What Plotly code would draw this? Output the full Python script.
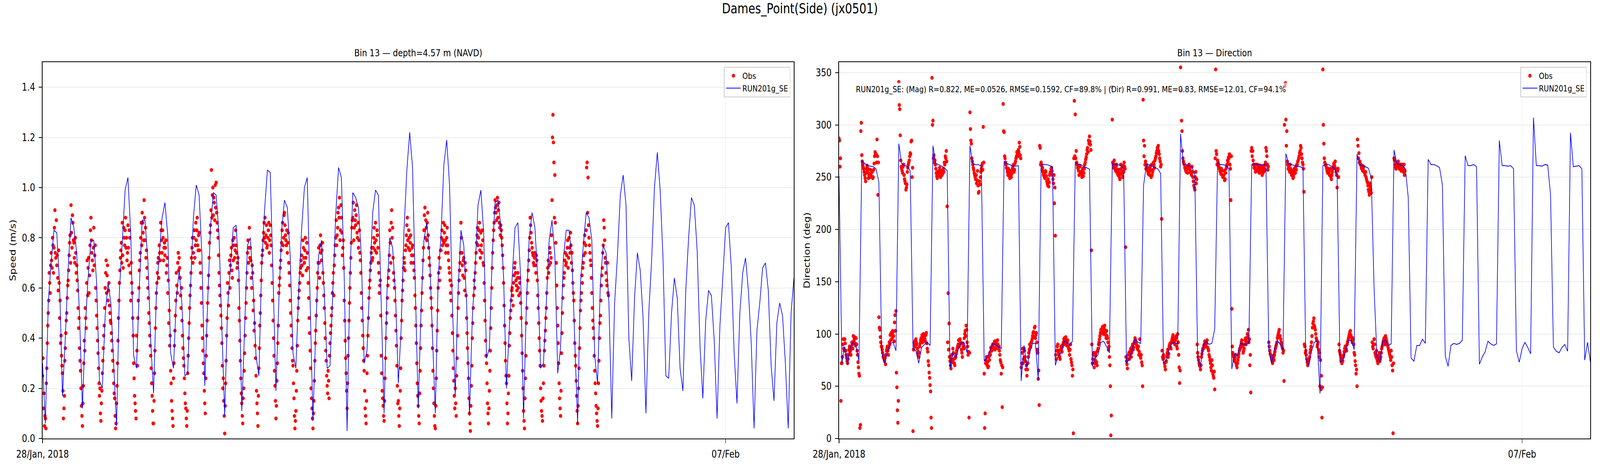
import pandas as pd
import plotly.graph_objects as go

START = "2018-01-28 00:00"
START_B = "2018-01-28 00:10"
END = "2018-02-08 00:00"

# hourly model series (RUN201g_SE)
model_speed = [
    0.30, 0.06, 0.54, 0.70, 0.83, 0.82, 0.61, 0.17, 0.40, 0.68,
    0.88, 0.84, 0.74, 0.49, 0.12, 0.44, 0.64, 0.79, 0.79, 0.62,
    0.23, 0.20, 0.49, 0.62, 0.54, 0.30, 0.05, 0.59, 0.78, 0.99,
    1.04, 0.81, 0.33, 0.28, 0.60, 0.87, 0.87, 0.71, 0.39, 0.18,
    0.58, 0.73, 0.88, 0.94, 0.81, 0.34, 0.28, 0.56, 0.67, 0.53,
    0.25, 0.26, 0.61, 0.88, 1.01, 0.97, 0.73, 0.21, 0.54, 0.84,
    0.98, 0.97, 0.81, 0.44, 0.09, 0.52, 0.68, 0.84, 0.85, 0.66,
    0.11, 0.44, 0.77, 0.80, 0.61, 0.33, 0.25, 0.69, 0.91, 1.07,
    1.06, 0.64, 0.19, 0.54, 0.83, 0.95, 0.92, 0.73, 0.34, 0.28,
    0.59, 0.83, 1.00, 1.04, 0.54, 0.07, 0.44, 0.73, 0.79, 0.58,
    0.28, 0.29, 0.59, 0.89, 1.08, 1.04, 0.64, 0.03, 0.64, 0.98,
    0.96, 0.92, 0.73, 0.30, 0.35, 0.64, 0.90, 0.99, 0.97, 0.54,
    0.10, 0.58, 0.80, 0.76, 0.58, 0.22, 0.44, 0.83, 1.07, 1.22,
    1.08, 0.59, 0.12, 0.52, 0.79, 0.86, 0.73, 0.41, 0.10, 0.64,
    0.81, 1.09, 1.19, 1.01, 0.54, 0.17, 0.59, 0.83, 0.77, 0.54,
    0.09, 0.48, 0.68, 0.93, 0.99, 0.82, 0.32, 0.36, 0.73, 0.94,
    0.95, 0.85, 0.64, 0.20, 0.44, 0.64, 0.84, 0.86, 0.64, 0.08,
    0.54, 0.80, 0.90, 0.84, 0.64, 0.28, 0.30, 0.54, 0.79, 0.87,
    0.73, 0.26, 0.36, 0.72, 0.83, 0.83, 0.72, 0.39, 0.06, 0.62,
    0.77, 0.90, 0.88, 0.79, 0.33, 0.22, 0.62, 0.77, 0.74, 0.54,
    0.08, 0.54, 0.73, 0.97, 1.05, 0.93, 0.40, 0.23, 0.56, 0.74,
    0.67, 0.48, 0.10, 0.50, 0.71, 1.00, 1.14, 0.99, 0.72, 0.25,
    0.24, 0.50, 0.64, 0.56, 0.28, 0.19, 0.59, 0.80, 0.96, 0.93,
    0.75, 0.37, 0.16, 0.47, 0.59, 0.57, 0.39, 0.08, 0.45, 0.64,
    0.84, 0.86, 0.68, 0.34, 0.14, 0.50, 0.66, 0.72, 0.59, 0.38,
    0.04, 0.43, 0.54, 0.68, 0.70, 0.59, 0.29, 0.15, 0.46, 0.54,
    0.49, 0.30, 0.04, 0.50, 0.64,
]

model_dir = [
    251, 72, 88, 71, 88, 92, 88, 74, 266, 263,
    261, 260.5, 260, 258, 245, 82, 72, 83, 91, 92,
    84, 282, 263, 261, 260.5, 256, 86, 84, 72, 87,
    90, 92, 89, 280, 263, 262, 260.5, 259, 256, 67,
    82, 77, 86, 92, 91.5, 82, 280, 263, 262, 262,
    260.5, 74, 77, 84, 91, 89.5, 88, 86, 265, 263,
    262, 260.5, 260.5, 261, 55, 89, 68, 82, 91, 91,
    56, 262, 262, 262, 261, 260, 70, 79, 82, 93,
    92, 89.5, 93, 264, 262, 262, 260, 259, 257.5, 69,
    78, 80, 92, 93, 88, 82, 263, 262, 262, 261,
    258, 72, 76, 85, 95, 92, 91, 242, 262, 262,
    260.5, 259, 258, 253.5, 72, 75, 85, 91, 92, 90,
    291.5, 262, 262, 261, 260, 252, 77, 69, 89, 93,
    90, 91, 105, 264, 262, 262, 261, 258, 66.5, 81,
    79.5, 91, 90, 90, 92, 262, 263, 262, 262, 262,
    262, 85, 72, 86, 94, 90, 85, 272.5, 263, 262,
    261, 260.5, 260, 259, 77, 70, 83, 92, 93.5, 43,
    261, 262, 262, 260.5, 258.5, 252, 73, 75, 83, 94,
    94, 85, 272, 262, 260.5, 260, 258.5, 249, 143, 79,
    73, 93, 94, 89, 90.5, 276, 263, 262, 261, 258,
    230.5, 77, 74, 89, 89, 95, 91, 267, 262, 262,
    261, 259, 242.5, 79, 69, 89, 91, 90, 91, 94,
    270.5, 261, 261, 262, 260, 71, 78, 83, 93, 90.5,
    89, 90.5, 285, 261, 261, 260.5, 261, 258, 84, 73,
    86, 92, 87, 81, 307, 261, 261, 260.5, 262, 261.5,
    233, 87.5, 83.5, 82, 87, 90, 83.5, 292.5, 260, 260.5,
    261, 258, 75, 92, 73,
]

# observations, samples at :00, :20, :40 of each hour
obs_speed = [
    0.25, 0.12, 0.05,  0.08, 0.22, 0.38,  0.50, 0.66, 0.58,  0.74, 0.68, 0.77,
    0.76, 0.91, 0.72,  0.69, 0.64, 0.75,  0.48, 0.38, 0.33,  0.26, 0.08, 0.17,
    0.36, 0.47, 0.56,  0.63, 0.73, 0.81,  0.93, 0.76, 0.86,  0.78, 0.70, 0.74,
    0.69, 0.59, 0.44,  0.36, 0.27, 0.13,  0.05, 0.21, 0.39,  0.52, 0.44, 0.71,
    0.68, 0.58, 0.77,  0.88, 0.74, 0.67,  0.84, 0.73, 0.60,  0.49, 0.39, 0.28,
    0.17, 0.10, 0.14,  0.26, 0.36, 0.45,  0.60, 0.71, 0.65,  0.55, 0.62, 0.50,
    0.46, 0.39, 0.31,  0.22, 0.16, 0.04,  0.14, 0.30, 0.48,  0.62, 0.72, 0.78,
    0.86, 0.68, 0.80,  0.83, 0.76, 0.71,  0.85, 0.69, 0.80,  0.55, 0.62, 0.48,
    0.30, 0.17, 0.11,  0.41, 0.29, 0.55,  0.67, 0.74, 0.86,  0.90, 0.82, 0.95,
    0.79, 0.72, 0.68,  0.60, 0.50, 0.41,  0.33, 0.22, 0.11,  0.06, 0.26, 0.44,
    0.58, 0.66, 0.72,  0.77, 0.71, 0.83,  0.74, 0.80, 0.76,  0.73, 0.79, 0.69,
    0.58, 0.46, 0.37,  0.27, 0.15, 0.08,  0.24, 0.37, 0.49,  0.66, 0.58, 0.74,
    0.72, 0.64, 0.52,  0.47, 0.36, 0.29,  0.18, 0.12, 0.05,  0.26, 0.40, 0.52,
    0.61, 0.72, 0.80,  0.74, 0.83, 0.77,  0.79, 0.88, 0.75,  0.82, 0.70, 0.60,
    0.45, 0.35, 0.26,  0.14, 0.24, 0.41,  0.54, 0.65, 0.78,  0.85, 1.07, 0.97,
    0.89, 0.94, 1.01,  1.02, 0.86, 0.80,  0.66, 0.57, 0.49,  0.38, 0.20, 0.15,
    0.02, 0.22, 0.41,  0.62, 0.53, 0.71,  0.69, 0.76, 0.64,  0.71, 0.80, 0.75,
    0.77, 0.68, 0.72,  0.52, 0.39, 0.24,  0.14, 0.06, 0.20,  0.34, 0.48, 0.60,
    0.74, 0.70, 0.84,  0.76, 0.64, 0.69,  0.51, 0.43, 0.37,  0.25, 0.14, 0.05,
    0.28, 0.45, 0.57,  0.70, 0.75, 0.82,  0.80, 0.78, 0.85,  0.77, 0.83, 0.74,
    0.85, 0.77, 0.62,  0.47, 0.33, 0.21,  0.08, 0.23, 0.38,  0.58, 0.64, 0.71,
    0.78, 0.86, 0.80,  0.90, 0.81, 0.77,  0.74, 0.82, 0.66,  0.55, 0.45, 0.36,
    0.29, 0.16, 0.04,  0.11, 0.27, 0.47,  0.56, 0.62, 0.68,  0.73, 0.65, 0.76,
    0.70, 0.80, 0.67,  0.74, 0.62, 0.48,  0.35, 0.20, 0.12,  0.04, 0.15, 0.31,
    0.43, 0.55, 0.66,  0.76, 0.64, 0.81,  0.71, 0.78, 0.62,  0.52, 0.40, 0.31,
    0.21, 0.27, 0.16,  0.38, 0.45, 0.52,  0.62, 0.57, 0.73,  0.80, 0.77, 0.84,
    0.92, 0.96, 0.83,  0.88, 0.73, 0.79,  0.55, 0.39, 0.26,  0.12, 0.33, 0.47,
    0.60, 0.72, 0.84,  0.88, 0.79, 0.91,  0.85, 0.93, 0.80,  0.76, 0.83, 0.71,
    0.58, 0.47, 0.36,  0.27, 0.12, 0.06,  0.26, 0.41, 0.56,  0.63, 0.70, 0.76,
    0.72, 0.80, 0.78,  0.86, 0.74, 0.81,  0.70, 0.58, 0.63,  0.33, 0.19, 0.13,
    0.07, 0.24, 0.40,  0.50, 0.61, 0.67,  0.83, 0.70, 0.91,  0.84, 0.66, 0.60,
    0.49, 0.37, 0.21,  0.15, 0.05, 0.19,  0.40, 0.55, 0.63,  0.72, 0.67, 0.77,
    0.85, 0.79, 0.83,  0.75, 0.81, 0.73,  0.77, 0.70, 0.64,  0.52, 0.38, 0.22,
    0.13, 0.06, 0.27,  0.45, 0.58, 0.71,  0.83, 0.92, 0.87,  0.79, 0.90, 0.76,
    0.69, 0.60, 0.52,  0.36, 0.20, 0.09,  0.04, 0.24, 0.43,  0.60, 0.72, 0.68,
    0.75, 0.83, 0.79,  0.78, 0.85, 0.74,  0.80, 0.77, 0.71,  0.66, 0.58, 0.61,
    0.42, 0.28, 0.17,  0.20, 0.09, 0.32,  0.52, 0.63, 0.70,  0.86, 0.74, 0.65,
    0.72, 0.59, 0.67,  0.48, 0.36, 0.24,  0.10, 0.03, 0.21,  0.40, 0.52, 0.63,
    0.66, 0.74, 0.81,  0.77, 0.83, 0.75,  0.82, 0.74, 0.79,  0.69, 0.55, 0.39,
    0.30, 0.14, 0.06,  0.19, 0.35, 0.52,  0.68, 0.79, 0.86,  0.95, 0.90, 0.93,
    0.88, 0.94, 0.84,  0.85, 0.80, 0.73,  0.62, 0.45, 0.31,  0.22, 0.06, 0.18,
    0.37, 0.48, 0.55,  0.60, 0.53, 0.65,  0.70, 0.63, 0.59,  0.66, 0.57, 0.62,
    0.54, 0.41, 0.27,  0.11, 0.04, 0.24,  0.46, 0.58, 0.67,  0.75, 0.88, 0.82,
    0.76, 0.73, 0.69,  0.74, 0.66, 0.71,  0.57, 0.46, 0.35,  0.20, 0.11, 0.07,
    0.22, 0.35, 0.43,  0.52, 0.64, 0.71,  0.69, 0.74, 0.72,  0.95, 1.29, 1.10,
    1.05, 0.78, 0.61,  0.45, 0.30, 0.16,  0.09, 0.34, 0.50,  0.61, 0.66, 0.74,
    0.70, 0.76, 0.68,  0.80, 0.74, 0.77,  0.74, 0.62, 0.55,  0.38, 0.29, 0.17,
    0.06, 0.20, 0.36,  0.51, 0.58, 0.62,  0.70, 0.78, 0.74,  0.83, 1.10, 1.04,
    0.80, 0.74, 0.69,  0.58, 0.47, 0.40,  0.27, 0.18, 0.10,  0.05, 0.22, 0.40,
    0.49, 0.61, 0.68,  0.77, 0.84, 0.72,  0.66, 0.61, 0.58,
]

# observations, samples at :10, :30, :50 of each hour
obs_speed_b = [
    0.32, 0.18, 0.09,  0.04, 0.28, 0.45,  0.55, 0.62, 0.69,  0.71, 0.80, 0.66,
    0.84, 0.74, 0.87,  0.73, 0.59, 0.62,  0.55, 0.41, 0.29,  0.19, 0.12, 0.31,
    0.42, 0.50, 0.61,  0.67, 0.78, 0.70,  0.82, 0.89, 0.79,  0.72, 0.80, 0.66,
    0.63, 0.52, 0.48,  0.31, 0.20, 0.09,  0.14, 0.30, 0.35,  0.48, 0.62, 0.57,
    0.72, 0.65, 0.83,  0.79, 0.71, 0.76,  0.69, 0.77, 0.55,  0.44, 0.34, 0.22,
    0.20, 0.07, 0.19,  0.31, 0.41, 0.52,  0.66, 0.58, 0.69,  0.59, 0.53, 0.47,
    0.42, 0.35, 0.27,  0.18, 0.09, 0.06,  0.21, 0.39, 0.55,  0.67, 0.75, 0.70,
    0.73, 0.84, 0.77,  0.88, 0.80, 0.74,  0.76, 0.83, 0.66,  0.70, 0.58, 0.41,
    0.24, 0.14, 0.08,  0.35, 0.48, 0.60,  0.71, 0.80, 0.77,  0.86, 0.79, 0.88,
    0.84, 0.75, 0.64,  0.56, 0.46, 0.37,  0.28, 0.17, 0.06,  0.15, 0.35, 0.52,
    0.62, 0.70, 0.64,  0.74, 0.86, 0.79,  0.83, 0.71, 0.78,  0.76, 0.66, 0.72,
    0.63, 0.51, 0.41,  0.22, 0.11, 0.05,  0.30, 0.43, 0.55,  0.61, 0.70, 0.67,
    0.68, 0.57, 0.60,  0.41, 0.32, 0.24,  0.14, 0.08, 0.11,  0.33, 0.46, 0.57,
    0.66, 0.76, 0.70,  0.80, 0.72, 0.86,  0.83, 0.77, 0.81,  0.75, 0.66, 0.54,
    0.40, 0.30, 0.19,  0.10, 0.33, 0.47,  0.60, 0.72, 0.82,  0.91, 0.88, 1.00,
    0.96, 0.87, 0.92,  0.90, 0.83, 0.73,  0.61, 0.53, 0.44,  0.29, 0.24, 0.09,
    0.13, 0.31, 0.48,  0.58, 0.66, 0.60,  0.73, 0.67, 0.79,  0.77, 0.72, 0.83,
    0.74, 0.70, 0.63,  0.47, 0.31, 0.18,  0.09, 0.16, 0.27,  0.41, 0.54, 0.66,
    0.79, 0.76, 0.72,  0.71, 0.60, 0.66,  0.55, 0.46, 0.32,  0.19, 0.10, 0.17,
    0.36, 0.50, 0.63,  0.73, 0.79, 0.86,  0.88, 0.81, 0.76,  0.80, 0.86, 0.79,
    0.81, 0.69, 0.55,  0.40, 0.27, 0.15,  0.13, 0.30, 0.45,  0.61, 0.68, 0.75,
    0.83, 0.77, 0.89,  0.85, 0.79, 0.83,  0.78, 0.70, 0.61,  0.50, 0.41, 0.31,
    0.22, 0.09, 0.07,  0.19, 0.37, 0.52,  0.59, 0.66, 0.71,  0.69, 0.79, 0.72,
    0.75, 0.72, 0.78,  0.68, 0.56, 0.42,  0.28, 0.16, 0.08,  0.10, 0.23, 0.38,
    0.49, 0.60, 0.70,  0.70, 0.77, 0.74,  0.75, 0.66, 0.57,  0.46, 0.35, 0.25,
    0.18, 0.23, 0.33,  0.42, 0.49, 0.58,  0.66, 0.69, 0.77,  0.87, 0.81, 0.90,
    0.88, 0.79, 0.93,  0.82, 0.76, 0.68,  0.47, 0.32, 0.19,  0.22, 0.40, 0.54,
    0.66, 0.78, 0.87,  0.94, 0.84, 0.87,  0.89, 0.82, 0.86,  0.79, 0.74, 0.66,
    0.52, 0.41, 0.31,  0.19, 0.09, 0.15,  0.33, 0.48, 0.60,  0.67, 0.74, 0.71,
    0.76, 0.84, 0.75,  0.79, 0.83, 0.76,  0.66, 0.61, 0.49,  0.26, 0.16, 0.09,
    0.15, 0.32, 0.46,  0.56, 0.64, 0.73,  0.78, 0.86, 0.80,  0.72, 0.63, 0.55,
    0.43, 0.29, 0.14,  0.09, 0.12, 0.28,  0.47, 0.59, 0.68,  0.70, 0.75, 0.81,
    0.88, 0.76, 0.80,  0.78, 0.70, 0.76,  0.73, 0.67, 0.57,  0.45, 0.30, 0.17,
    0.09, 0.18, 0.36,  0.51, 0.64, 0.76,  0.89, 0.80, 0.84,  0.86, 0.81, 0.72,
    0.65, 0.56, 0.45,  0.27, 0.14, 0.05,  0.13, 0.35, 0.51,  0.66, 0.63, 0.75,
    0.80, 0.77, 0.86,  0.82, 0.79, 0.77,  0.84, 0.74, 0.68,  0.63, 0.55, 0.49,
    0.35, 0.23, 0.12,  0.14, 0.25, 0.41,  0.58, 0.67, 0.74,  0.80, 0.69, 0.71,
    0.64, 0.70, 0.57,  0.42, 0.30, 0.16,  0.06, 0.13, 0.29,  0.46, 0.57, 0.60,
    0.70, 0.78, 0.84,  0.80, 0.86, 0.72,  0.77, 0.83, 0.70,  0.62, 0.47, 0.33,
    0.22, 0.10, 0.12,  0.27, 0.44, 0.60,  0.74, 0.83, 0.90,  0.92, 0.87, 0.96,
    0.91, 0.86, 0.81,  0.83, 0.77, 0.68,  0.53, 0.38, 0.25,  0.14, 0.10, 0.25,
    0.42, 0.51, 0.59,  0.57, 0.62, 0.68,  0.66, 0.61, 0.64,  0.60, 0.64, 0.58,
    0.48, 0.34, 0.20,  0.07, 0.16, 0.33,  0.52, 0.63, 0.71,  0.80, 0.85, 0.78,
    0.74, 0.70, 0.72,  0.69, 0.73, 0.63,  0.52, 0.40, 0.29,  0.15, 0.09, 0.16,
    0.29, 0.39, 0.48,  0.58, 0.68, 0.66,  0.76, 0.70, 0.81,  1.20, 1.18, 0.88,
    0.86, 0.70, 0.52,  0.38, 0.22, 0.12,  0.19, 0.42, 0.56,  0.64, 0.71, 0.69,
    0.73, 0.79, 0.72,  0.76, 0.82, 0.70,  0.67, 0.58, 0.47,  0.33, 0.23, 0.11,
    0.13, 0.28, 0.44,  0.55, 0.65, 0.68,  0.73, 0.81, 0.77,  1.08, 0.90, 0.85,
    0.77, 0.71, 0.64,  0.52, 0.44, 0.33,  0.22, 0.13, 0.07,  0.12, 0.31, 0.46,
    0.55, 0.65, 0.74,  0.87, 0.79, 0.70,  0.63, 0.70, 0.57,
]

obs_dir = [
    287, 260, 36,  72, 90, 86,  95, 84, 77,  72, 80, 88,  84, 87, 90,  98, 95, 91,
    96, 84, 73,  62, 10, 294,  271, 262, 258,  252, 246, 258,  255, 249, 253,  257, 251, 255,
    250, 263, 274,  272, 286, 233,  116, 104, 92,  88, 82, 79,  74, 71, 84,  88, 80, 92,
    99, 101, 96,  102, 93, 118,  122, 49, 15,  341, 315, 266,  258, 254, 262,  248, 244, 240,
    255, 262, 266,  273, 284, 250,  7, 92, 88,  95, 90, 81,  78, 88, 94,  96, 92, 100,
    97, 93, 101,  86, 74, 63,  51, 20, 345,  304, 271, 266,  258, 251, 255,  253, 259, 250,
    256, 253, 258,  264, 270, 275,  222, 139, 110,  74, 67, 80,  86, 76, 70,  78, 84, 88,
    94, 89, 92,  85, 78, 88,  96, 103, 108,  92, 80, 20,  312, 285, 268,  262, 257, 252,
    248, 244, 256,  235, 246, 250,  258, 263, 298,  62, 24, 75,  70, 68, 78,  82, 87, 84,
    90, 86, 93,  91, 88, 94,  86, 84, 75,  62, 30, 320,  293, 268, 262,  258, 252, 255,
    249, 256, 253,  259, 262, 257,  265, 270, 272,  276, 283, 271,  68, 82, 72,  86, 78, 66,
    60, 72, 82,  90, 88, 93,  98, 102, 106,  96, 101, 85,  57, 32, 278,  264, 257, 255,
    253, 249, 255,  246, 242, 241,  252, 255, 259,  252, 244, 225,  194, 76, 88,  84, 80, 76,
    88, 83, 90,  95, 92, 97,  89, 94, 86,  80, 90, 73,  60, 5, 323,  310, 275, 262,
    258, 252, 260,  255, 250, 258,  254, 262, 267,  272, 278, 285,  289, 281, 180,  72, 80, 68,
    75, 82, 70,  86, 92, 98,  104, 101, 107,  102, 108, 99,  103, 96, 85,  78, 50, 22,
    305, 262, 266,  258, 260, 254,  252, 257, 248,  262, 256, 250,  255, 260, 183,  74, 67, 80,
    76, 84, 78,  88, 85, 91,  96, 92, 88,  85, 80, 95,  77, 73, 50,  285, 280, 265,
    262, 257, 253,  255, 260, 250,  252, 257, 262,  266, 270, 275,  278, 275, 268,  260, 210, 78,
    80, 72, 66,  74, 82, 78,  88, 91, 86,  95, 99, 93,  90, 96, 88,  100, 80, 53,
    355, 304, 275,  265, 262, 258,  255, 260, 258,  262, 257, 254,  260, 250, 242,  238, 255, 248,
    82, 75, 70,  66, 78, 84,  86, 90, 92,  88, 94, 86,  80, 75, 68,  75, 62, 58,
    47, 353, 272,  266, 262, 258,  255, 258, 252,  250, 256, 248,  258, 262, 265,  268, 262, 228,
    124, 82, 78,  74, 80, 70,  72, 78, 84,  86, 92, 88,  82, 86, 94,  90, 96, 98,
    92, 70, 44,  278, 275, 262,  260, 255, 257,  262, 258, 254,  256, 260, 252,  254, 258, 262,
    278, 270, 257,  92, 84, 80,  76, 72, 78,  80, 86, 90,  96, 100, 104,  98, 92, 88,
    82, 55, 337,  305, 294, 262,  260, 255, 258,  252, 256, 250,  258, 254, 257,  262, 266, 270,
    275, 278, 268,  262, 236, 88,  84, 76, 70,  74, 78, 85,  92, 106, 112,  108, 104, 96,
    88, 92, 78,  50, 47, 20,  353, 282, 264,  262, 258, 254,  256, 252, 258,  248, 255, 260,
    262, 265, 255,  240, 258, 90,  82, 78, 72,  74, 80, 86,  88, 84, 92,  96, 100, 103,
    97, 92, 95,  82, 74, 62,  50, 280, 273,  265, 262, 258,  256, 260, 254,  255, 248, 245,
    238, 233, 241,  235, 92, 86,  95, 82, 78,  76, 72, 80,  74, 78, 86,  90, 94, 92,
    98, 94, 90,  86, 82, 78,  84, 70, 5,  268, 262, 258,  264, 260, 262,  258, 262, 257,
    260, 255, 252,
]

obs_dir_b = [
    285, 268, 72,  78, 95, 84,  91, 80, 74,  76, 85, 83,  80, 92, 86,  93, 97, 89,
    90, 80, 68,  60, 13, 302,  265, 260, 255,  249, 254, 261,  258, 252, 250,  253, 256, 249,
    257, 270, 272,  264, 270, 264,  106, 97, 88,  85, 78, 76,  77, 80, 86,  84, 87, 90,
    94, 100, 103,  98, 111, 103,  63, 27, 36,  319, 290, 260,  256, 260, 252,  246, 238, 243,
    259, 264, 270,  272, 285, 259,  85, 90, 94,  92, 86, 83,  82, 91, 96,  99, 94, 97,
    95, 99, 91,  83, 70, 58,  45, 10, 300,  268, 264, 262,  254, 249, 252,  256, 251, 254,
    252, 257, 255,  262, 268, 265,  92, 85, 78,  70, 76, 73,  82, 72, 77,  81, 86, 90,
    88, 95, 91,  82, 91, 86,  100, 98, 104,  88, 83, 82,  296, 282, 265,  259, 254, 250,
    252, 247, 242,  236, 243, 255,  261, 257, 264,  10, 72, 78,  73, 69, 75,  80, 85, 88,
    88, 91, 85,  93, 87, 90,  88, 80, 73,  70, 68, 294,  270, 264, 259,  255, 258, 251,
    253, 250, 257,  261, 255, 263,  268, 274, 270,  274, 279, 268,  72, 86, 76,  84, 74, 70,
    66, 78, 85,  87, 92, 95,  101, 97, 107,  99, 92, 82,  65, 280, 262,  262, 259, 252,
    250, 256, 251,  244, 248, 245,  254, 258, 256,  248, 252, 240,  80, 84, 90,  82, 78, 85,
    86, 88, 92,  96, 90, 94,  92, 88, 84,  85, 76, 70,  66, 268, 270,  268, 264, 259,
    256, 261, 254,  253, 257, 251,  258, 264, 269,  276, 274, 282,  284, 276, 90,  76, 82, 72,
    79, 73, 84,  90, 95, 101,  103, 106, 100,  105, 101, 96,  98, 92, 88,  70, 3, 336,
    264, 259, 262,  256, 262, 257,  255, 250, 253,  258, 253, 261,  264, 258, 78,  71, 76, 82,
    80, 86, 82,  90, 87, 93,  94, 90, 86,  88, 83, 79,  80, 70, 324,  270, 262, 258,
    260, 255, 258,  252, 257, 262,  255, 264, 259,  268, 273, 278,  280, 272, 265,  262, 84, 76,
    77, 69, 73,  79, 85, 81,  90, 87, 93,  97, 92, 96,  94, 98, 86,  92, 68, 65,
    333, 294, 268,  263, 259, 256,  258, 254, 261,  259, 255, 252,  255, 246, 240,  250, 244, 90,
    78, 72, 69,  70, 81, 86,  89, 93, 88,  91, 87, 84,  78, 72, 65,  70, 60, 64,
    268, 275, 262,  264, 260, 256,  253, 256, 250,  252, 247, 254,  260, 266, 269,  272, 258, 270,
    88, 80, 75,  77, 72, 68,  75, 81, 86,  89, 94, 90,  84, 90, 96,  93, 100, 104,
    95, 80, 275,  270, 266, 259,  258, 262, 256,  259, 255, 261,  258, 255, 257,  260, 256, 264,
    275, 262, 260,  88, 81, 78,  74, 79, 75,  83, 88, 92,  98, 102, 97,  95, 90, 86,
    84, 300, 340,  280, 265, 258,  257, 262, 254,  255, 249, 253,  255, 260, 262,  265, 268, 273,
    280, 272, 264,  258, 90, 82,  80, 73, 72,  76, 82, 88,  98, 110, 115,  106, 100, 94,
    90, 85, 82,  75, 60, 49,  300, 268, 262,  260, 256, 258,  254, 257, 250,  252, 258, 263,
    260, 258, 252,  256, 250, 84,  80, 75, 77,  78, 83, 88,  86, 90, 94,  98, 102, 99,
    94, 96, 90,  80, 70, 66,  286, 268, 264,  262, 259, 261,  258, 255, 252,  250, 246, 242,
    236, 244, 238,  250, 88, 90,  90, 80, 84,  74, 78, 82,  76, 82, 88,  92, 96, 90,
    96, 92, 88,  84, 80, 75,  78, 65, 72,  266, 260, 264,  262, 265, 258,  260, 256, 262,
    258, 262, 256,
]

speed_ticks = [0.0, 0.2, 0.4, 0.6, 0.8, 1.0, 1.2, 1.4]
dir_ticks = [0, 50, 100, 150, 200, 250, 300, 350]
x_tick_dates = ["2018-01-28", "2018-02-07"]
x_tick_labels = ["28/Jan, 2018", "07/Feb"]

suptitle = "Dames_Point(Side) (jx0501)"
title_left = "Bin 13 \u2014 depth=4.57 m (NAVD)"
title_right = "Bin 13 \u2014 Direction"
stats_text = ("RUN201g_SE: (Mag) R=0.822, ME=0.0526, RMSE=0.1592, CF=89.8% | "
              "(Dir) R=0.991, ME=0.83, RMSE=12.01, CF=94.1%")

model_time = pd.date_range(START, periods=len(model_speed), freq="h")
model_time_d = pd.date_range(START, periods=len(model_dir), freq="h")
obs_t_s = (list(pd.date_range(START, periods=len(obs_speed), freq="20min"))
           + list(pd.date_range(START_B, periods=len(obs_speed_b), freq="20min")))
obs_v_s = obs_speed + obs_speed_b
obs_t_d = (list(pd.date_range(START, periods=len(obs_dir), freq="20min"))
           + list(pd.date_range(START_B, periods=len(obs_dir_b), freq="20min")))
obs_v_d = obs_dir + obs_dir_b

FONT = "DejaVu Sans"
W, H = 5000, 1200

fig = go.Figure()
fig.add_trace(go.Scatter(x=obs_t_s, y=obs_v_s, mode="markers", name="Obs",
                         marker=dict(color="#ff0000", size=10, line=dict(width=0)),
                         xaxis="x", yaxis="y", legend="legend"))
fig.add_trace(go.Scatter(x=model_time, y=model_speed, mode="lines", name="RUN201g_SE",
                         line=dict(color="#0000ff", width=2),
                         xaxis="x", yaxis="y", legend="legend"))
fig.add_trace(go.Scatter(x=obs_t_d, y=obs_v_d, mode="markers", name="Obs",
                         marker=dict(color="#ff0000", size=10, line=dict(width=0)),
                         xaxis="x2", yaxis="y2", legend="legend2"))
fig.add_trace(go.Scatter(x=model_time_d, y=model_dir, mode="lines", name="RUN201g_SE",
                         line=dict(color="#0000ff", width=2),
                         xaxis="x2", yaxis="y2", legend="legend2"))

ydom = [(H - 1122) / H, (H - 159) / H]
xdom1 = [133 / W, 2481 / W]
xdom2 = [2622 / W, 4970 / W]

common_axis = dict(showline=True, mirror=True, linecolor="black", linewidth=2,
                   ticks="outside", ticklen=10, tickwidth=2, tickcolor="black",
                   showgrid=True, gridcolor="#ebebeb", gridwidth=2, zeroline=False,
                   tickfont=dict(family=FONT, size=26, color="black"),
                   ticklabelstandoff=6, automargin=False)

fig.update_layout(
    width=W, height=H, autosize=False,
    margin=dict(l=0, r=0, t=0, b=0, pad=0),
    paper_bgcolor="white", plot_bgcolor="white",
    font=dict(family=FONT, color="black"),
    xaxis=dict(domain=xdom1, anchor="y", type="date", range=[START, END],
               tickvals=x_tick_dates, ticktext=x_tick_labels, **common_axis),
    yaxis=dict(domain=ydom, anchor="x", range=[0, 1.5], tickvals=speed_ticks,
               tickformat=".1f",
               title=dict(text="Speed (m/s)", font=dict(family=FONT, size=26), standoff=12),
               **common_axis),
    xaxis2=dict(domain=xdom2, anchor="y2", type="date", range=[START, END],
                tickvals=x_tick_dates, ticktext=x_tick_labels, **common_axis),
    yaxis2=dict(domain=ydom, anchor="x2", range=[0, 360], tickvals=dir_ticks,
                title=dict(text="Direction (deg)", font=dict(family=FONT, size=26), standoff=10),
                **common_axis),
    legend=dict(x=2470 / W, y=(H - 171) / H, xanchor="right", yanchor="top",
                bgcolor="rgba(255,255,255,0.8)", bordercolor="#cccccc", borderwidth=2,
                font=dict(family=FONT, size=22), itemwidth=46),
    legend2=dict(x=4959 / W, y=(H - 171) / H, xanchor="right", yanchor="top",
                 bgcolor="rgba(255,255,255,0.8)", bordercolor="#cccccc", borderwidth=2,
                 font=dict(family=FONT, size=22), itemwidth=46),
    showlegend=True,
)

fig.add_annotation(text=suptitle, xref="paper", yref="paper", x=0.5, y=(H - 22) / H,
                   xanchor="center", yanchor="middle", showarrow=False,
                   font=dict(family=FONT, size=35, color="black"))
fig.add_annotation(text=title_left, xref="paper", yref="paper",
                   x=(xdom1[0] + xdom1[1]) / 2, y=(H - 135) / H,
                   xanchor="center", yanchor="middle", showarrow=False,
                   font=dict(family=FONT, size=25, color="black"))
fig.add_annotation(text=title_right, xref="paper", yref="paper",
                   x=(xdom2[0] + xdom2[1]) / 2, y=(H - 135) / H,
                   xanchor="center", yanchor="middle", showarrow=False,
                   font=dict(family=FONT, size=25, color="black"))
fig.add_annotation(text=stats_text, xref="x2 domain", yref="y2 domain",
                   x=0.02, y=0.927, xanchor="left", yanchor="middle", showarrow=False,
                   bgcolor="rgba(255,255,255,0.6)", borderpad=4,
                   font=dict(family=FONT, size=22, color="black"))

# fit the fixed 5000x1200 figure exactly into whatever viewport the page gets
post = (
    "var gd=document.getElementById('{plot_id}');"
    "document.documentElement.style.margin='0';document.body.style.margin='0';"
    "document.body.style.padding='0';"
    "document.documentElement.style.overflow='hidden';document.body.style.overflow='hidden';"
    "var vw=window.innerWidth, vh=window.innerHeight;"
    "var wrap=gd.parentElement;"
    "wrap.style.width=vw+'px';wrap.style.height=vh+'px';wrap.style.overflow='hidden';"
    "wrap.style.margin='0';wrap.style.padding='0';"
    "gd.style.transformOrigin='0 0';"
    "gd.style.transform='scale('+(vw/5000)+','+(vh/1200)+')';"
)

fig.write_html("out.html", config={"displayModeBar": False, "responsive": False},
               post_script=post)
